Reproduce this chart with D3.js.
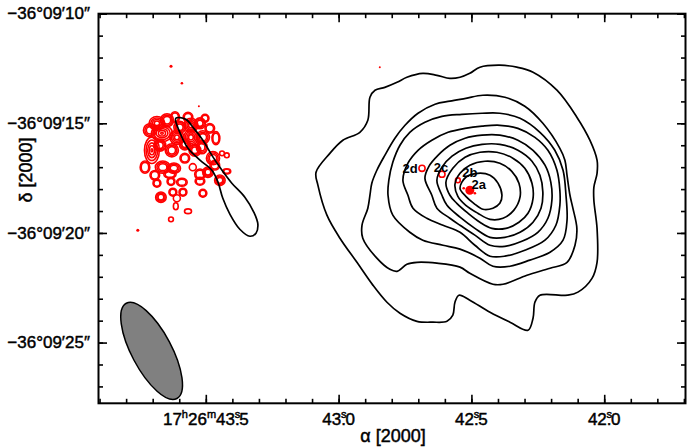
<!DOCTYPE html>
<html>
<head>
<meta charset="utf-8">
<script src="https://cdn.jsdelivr.net/npm/d3@7"></script>
<style>
  body { margin: 0; background: #fff; }
  svg { display: block; font-family: "Liberation Sans", Arial, sans-serif; }
  .lab { stroke: #000; stroke-width: 0.45px; }
</style>
</head>
<body>
<div id="graphicContainer"></div>
<script>
// positions: [RA seconds of 17h26m, Dec arcsec of -36d09m]

// low-resolution (black) contours, outer to inner
var contour1 = [[43.085,17.23],[43.078,17.82],[43.044,19.19],[42.995,20.24],[42.931,21.34],[42.871,22.38],[42.818,23.16],[42.769,23.66],[42.705,24.03],[42.645,24.07],[42.592,24.03],[42.570,23.75],[42.562,23.16],[42.547,22.84],[42.506,23.07],[42.430,23.62],[42.355,24.07],[42.287,24.44],[42.268,23.89],[42.261,23.16],[42.242,22.84],[42.137,22.84],[42.099,22.70],[42.046,22.07],[42.027,21.34],[42.027,19.79],[42.039,18.51],[42.039,17.92],[42.027,17.28],[42.027,16.68],[42.054,15.77],[42.103,14.72],[42.178,13.49],[42.268,12.67],[42.329,12.44],[42.393,12.35],[42.468,12.44],[42.506,12.72],[42.543,12.90],[42.581,12.95],[42.630,12.81],[42.683,12.72],[42.743,12.90],[42.780,13.13],[42.826,13.36],[42.863,13.49],[42.882,13.81],[42.890,14.86],[42.920,15.41],[42.984,15.77],[43.033,16.37]]
var contour2 = [[42.882,18.28],[42.890,18.87],[42.912,19.65],[42.909,20.24],[42.856,21.15],[42.807,21.66],[42.780,21.75],[42.743,21.43],[42.705,21.34],[42.630,21.38],[42.543,21.56],[42.506,21.84],[42.419,22.34],[42.381,22.34],[42.291,21.93],[42.204,21.61],[42.140,21.34],[42.110,20.56],[42.103,19.79],[42.118,18.87],[42.129,18.28],[42.140,17.37],[42.148,16.68],[42.167,16.14],[42.231,15.00],[42.299,14.22],[42.374,13.81],[42.457,13.72],[42.521,13.86],[42.581,13.99],[42.637,14.13],[42.701,14.54],[42.750,15.09],[42.788,15.68],[42.826,16.46],[42.856,17.14],[42.875,17.73]]
var contour3 = [[42.811,17.60],[42.814,18.28],[42.796,19.19],[42.732,19.97],[42.683,20.33],[42.607,20.56],[42.543,20.74],[42.468,21.15],[42.419,21.52],[42.355,21.52],[42.280,21.24],[42.204,20.88],[42.155,20.33],[42.140,19.42],[42.144,18.28],[42.155,17.14],[42.186,16.23],[42.242,15.41],[42.317,14.77],[42.393,14.54],[42.460,14.54],[42.536,14.59],[42.611,14.68],[42.675,14.95],[42.732,15.41],[42.769,16.00],[42.796,16.78]]
var contour4 = [[42.758,17.60],[42.739,18.28],[42.720,18.87],[42.668,19.33],[42.607,19.65],[42.543,19.97],[42.487,20.56],[42.430,21.06],[42.374,21.06],[42.299,20.79],[42.223,20.33],[42.182,19.65],[42.167,18.74],[42.167,18.05],[42.178,17.14],[42.212,16.23],[42.261,15.64],[42.325,15.23],[42.393,15.09],[42.460,15.13],[42.524,15.23],[42.588,15.41],[42.649,15.77],[42.701,16.23],[42.739,16.82]]
var contour5 = [[42.675,17.51],[42.649,18.28],[42.630,18.87],[42.581,19.33],[42.543,19.65],[42.487,20.10],[42.430,20.56],[42.374,20.61],[42.310,20.38],[42.250,19.97],[42.212,19.33],[42.197,18.51],[42.201,17.69],[42.223,16.91],[42.268,16.23],[42.325,15.77],[42.393,15.54],[42.460,15.54],[42.524,15.68],[42.581,16.00],[42.626,16.46],[42.660,16.96]]
var contour6 = [[42.630,17.60],[42.611,18.28],[42.592,18.74],[42.543,19.28],[42.487,19.79],[42.430,20.20],[42.374,20.20],[42.317,19.97],[42.268,19.51],[42.238,18.87],[42.231,18.14],[42.242,17.37],[42.272,16.73],[42.325,16.23],[42.393,15.96],[42.460,15.96],[42.521,16.14],[42.573,16.50],[42.611,17.00]]
var contour7 = [[42.596,17.69],[42.581,18.28],[42.555,18.65],[42.513,19.10],[42.468,19.51],[42.423,19.79],[42.370,19.79],[42.321,19.51],[42.287,19.10],[42.268,18.42],[42.272,17.73],[42.299,17.05],[42.344,16.59],[42.404,16.32],[42.468,16.32],[42.524,16.55],[42.570,17.05]]
var contour8 = [[42.562,17.78],[42.551,18.33],[42.521,18.74],[42.476,19.10],[42.430,19.38],[42.381,19.33],[42.340,18.96],[42.317,18.37],[42.321,17.73],[42.348,17.19],[42.393,16.82],[42.449,16.73],[42.506,16.91],[42.543,17.28]]
var contour9 = [[42.543,17.96],[42.521,17.46],[42.476,17.28],[42.430,17.37],[42.400,17.73],[42.385,18.28],[42.393,18.65],[42.419,18.87],[42.457,18.92],[42.491,18.65],[42.521,18.33]]
// lowest level closed around the west lobe
var lobeContour = [[43.613,14.77],[43.598,15.41],[43.567,16.14],[43.522,16.68],[43.477,17.14],[43.454,17.69],[43.436,18.42],[43.409,19.15],[43.372,19.83],[43.334,20.15],[43.311,20.01],[43.304,19.60],[43.319,19.06],[43.353,18.37],[43.402,17.73],[43.439,17.14],[43.477,16.46],[43.511,15.77],[43.545,15.23],[43.575,14.82]]

// high-resolution (red) emission: [ra, dec, rx", ry", rings] (rings 0 = filled dot)
var redSources = [
  [43.684,15.00,0.36,0.31,4],[43.646,14.86,0.30,0.30,3],[43.616,14.72,0.20,0.25,2],
  [43.556,15.09,0.32,0.32,4],[43.522,15.00,0.25,0.25,3],[43.665,15.45,0.48,0.38,5],
  [43.609,15.64,0.32,0.32,4],[43.556,15.64,0.32,0.36,4],[43.511,15.64,0.30,0.30,3],
  [43.703,16.23,0.34,0.60,5],[43.628,16.23,0.30,0.30,3],[43.579,15.96,0.25,0.25,3],
  [43.515,16.09,0.25,0.30,3],[43.462,15.68,0.18,0.30,2],[43.473,16.59,0.30,0.30,3],
  [43.439,16.37,0.11,0.11,1],[43.421,16.46,0.11,0.11,1],[43.729,17.00,0.22,0.28,2],
  [43.662,17.00,0.34,0.28,3],[43.620,17.05,0.30,0.24,3],[43.635,17.32,0.28,0.18,2],
  [43.549,17.00,0.16,0.16,1],[43.522,17.32,0.24,0.24,2],[43.492,17.23,0.24,0.24,3],
  [43.522,17.64,0.22,0.18,2],[43.447,17.60,0.24,0.24,3],[43.684,17.73,0.18,0.18,2],
  [43.631,17.65,0.18,0.18,2],[43.590,17.69,0.24,0.18,2],[43.624,18.14,0.18,0.18,2],
  [43.586,18.14,0.18,0.18,2],[43.669,18.37,0.24,0.24,3],[43.609,18.42,0.16,0.16,1],
  [43.511,18.19,0.18,0.18,2],[43.613,18.78,0.11,0.16,1],[43.567,19.01,0.16,0.11,1],
  [43.631,19.38,0.11,0.11,1],[43.421,17.19,0.18,0.12,2],
  [43.710,15.32,0.30,0.30,3],[43.673,16.00,0.27,0.27,3],[43.598,15.18,0.27,0.27,3],
  [43.485,15.23,0.22,0.22,2],[43.541,16.23,0.27,0.27,3],[43.579,16.59,0.22,0.22,2],
  [43.692,17.37,0.22,0.22,2],[43.466,16.91,0.22,0.22,2],[43.503,14.77,0.18,0.18,2],
  [43.567,14.72,0.22,0.22,2],
  [43.756,19.88,0.07,0.07,0],[43.631,12.40,0.07,0.07,0],[43.590,13.17,0.06,0.06,0],
  [43.526,14.22,0.04,0.04,0],[42.845,12.44,0.04,0.04,0],
  [42.529,17.96,0.06,0.06,0],[42.487,18.19,0.06,0.06,0]
]

// named components
var sourceNames = ["2a", "2b", "2c", "2d"]
var sourceRA = [42.506, 42.551, 42.611, 42.686]
var sourceDec = [18.05, 17.60, 17.32, 17.05]
var sourceSize = [0.17, 0.11, 0.14, 0.14]
var sourceFilled = [true, false, false, false]
var labelOffset = [[9, -6], [12, -8], [-1, -7], [-12, 0]]

// beam: full axes in arcsec, PA in degrees east of north
var beamRA = 43.704, beamDec = 25.38, beamMajor = 4.92, beamMinor = 1.82, beamPA = 28

var xMajorTicks = [43.5, 43.0, 42.5, 42.0]
var xTickLabels = ["17:26:43.5", "43.0", "42.5", "42.0"]
var yMajorTicks = [10, 15, 20, 25]
var yTickLabels = ["\u221236\u00b009\u203210\u2033", "\u221236\u00b009\u203215\u2033", "\u221236\u00b009\u203220\u2033", "\u221236\u00b009\u203225\u2033"]

var width = 689, height = 448
var plotLeft = 98.5, plotRight = 685.5, plotTop = 13.7, plotBottom = 403.3

var x = d3.scaleLinear().domain([43.904, 41.694]).range([plotLeft, plotRight])
var y = d3.scaleLinear().domain([10, 27.77]).range([plotTop, plotBottom])
var pxPerArcsec = y(1) - y(0)

var svg = d3.select("#graphicContainer")
  .append("svg")
  .attr("width", width)
  .attr("height", height)

svg.append("clipPath").attr("id", "plotClip")
  .append("rect")
  .attr("x", plotLeft).attr("y", plotTop)
  .attr("width", plotRight - plotLeft).attr("height", plotBottom - plotTop)

var plot = svg.append("g").attr("clip-path", "url(#plotClip)")

var line = d3.line()
  .x(function (d) { return x(d[0]) })
  .y(function (d) { return y(d[1]) })
  .curve(d3.curveCatmullRomClosed.alpha(0.5))

// beam ellipse
plot.append("ellipse")
  .attr("cx", x(beamRA))
  .attr("cy", y(beamDec))
  .attr("rx", beamMinor / 2 * pxPerArcsec)
  .attr("ry", beamMajor / 2 * pxPerArcsec)
  .attr("transform", "rotate(" + (-beamPA) + "," + x(beamRA) + "," + y(beamDec) + ")")
  .attr("fill", "#808080")
  .attr("stroke", "#000")
  .attr("stroke-width", 1.5)

// red contours
var red = plot.append("g")
redSources.forEach(function (s) {
  if (s[4] === 0) {
    red.append("ellipse")
      .attr("cx", x(s[0])).attr("cy", y(s[1]))
      .attr("rx", Math.max(1, s[2] * pxPerArcsec)).attr("ry", Math.max(1, s[3] * pxPerArcsec))
      .attr("fill", "#ff0000")
    return
  }
  for (var i = 0; i < s[4]; i++) {
    var f = 1 - i * 0.22
    red.append("ellipse")
      .attr("cx", x(s[0])).attr("cy", y(s[1]))
      .attr("rx", s[2] * pxPerArcsec * f).attr("ry", s[3] * pxPerArcsec * f)
      .attr("fill", "none")
      .attr("stroke", "#ff0000")
      .attr("stroke-width", 1.6)
  }
})

sourceNames.forEach(function (name, i) {
  red.append("ellipse")
    .attr("cx", x(sourceRA[i])).attr("cy", y(sourceDec[i]))
    .attr("rx", sourceSize[i] * pxPerArcsec).attr("ry", sourceSize[i] * pxPerArcsec)
    .attr("fill", sourceFilled[i] ? "#ff0000" : "none")
    .attr("stroke", "#ff0000")
    .attr("stroke-width", 1.6)
})

// black contours
var contours = [contour1, contour2, contour3, contour4, contour5, contour6, contour7, contour8, contour9, lobeContour]
plot.selectAll("path.contour")
  .data(contours)
  .join("path")
  .attr("class", "contour")
  .attr("d", line)
  .attr("fill", "none")
  .attr("stroke", "#000")
  .attr("stroke-width", 1.7)

// component labels
svg.selectAll("text.comp")
  .data(sourceNames)
  .join("text")
  .attr("class", "comp")
  .attr("x", function (d, i) { return x(sourceRA[i]) + labelOffset[i][0] })
  .attr("y", function (d, i) { return y(sourceDec[i]) + labelOffset[i][1] })
  .attr("dy", "0.35em")
  .attr("text-anchor", "middle")
  .style("font-size", "13px")
  .style("font-weight", "bold")
  .text(function (d) { return d })

// axes: ticks inward on all sides
var xMinor = d3.range(417, 440).map(function (d) { return d / 10 })
var yMinor = d3.range(10, 28)

function addAxis(axis, transform) {
  var g = svg.append("g").attr("transform", transform).call(axis)
  g.select(".domain").remove()
  g.selectAll("line").attr("stroke", "#000").attr("stroke-width", 1.6)
  g.selectAll("text").remove()
}

addAxis(d3.axisBottom(x).tickValues(xMinor).tickSize(-4.5), "translate(0," + plotBottom + ")")
addAxis(d3.axisBottom(x).tickValues(xMajorTicks).tickSize(-8.5), "translate(0," + plotBottom + ")")
addAxis(d3.axisTop(x).tickValues(xMinor).tickSize(-4.5), "translate(0," + plotTop + ")")
addAxis(d3.axisTop(x).tickValues(xMajorTicks).tickSize(-8.5), "translate(0," + plotTop + ")")
addAxis(d3.axisLeft(y).tickValues(yMinor).tickSize(-4.5), "translate(" + plotLeft + ",0)")
addAxis(d3.axisLeft(y).tickValues(yMajorTicks).tickSize(-8.5), "translate(" + plotLeft + ",0)")
addAxis(d3.axisRight(y).tickValues(yMinor).tickSize(-4.5), "translate(" + plotRight + ",0)")
addAxis(d3.axisRight(y).tickValues(yMajorTicks).tickSize(-8.5), "translate(" + plotRight + ",0)")

svg.append("rect")
  .attr("x", plotLeft).attr("y", plotTop)
  .attr("width", plotRight - plotLeft).attr("height", plotBottom - plotTop)
  .attr("fill", "none")
  .attr("stroke", "#000")
  .attr("stroke-width", 2)

// y tick labels
svg.selectAll("text.ylab")
  .data(yMajorTicks)
  .join("text")
  .attr("class", "ylab lab")
  .attr("x", 90)
  .attr("y", function (d) { return y(d) })
  .attr("dy", "0.33em")
  .attr("text-anchor", "end")
  .style("font-size", "17px")
  .text(function (d, i) { return yTickLabels[i] })

// x tick labels with sexagesimal superscripts
xMajorTicks.forEach(function (v, i) {
  var parts = xTickLabels[i].split(":")
  var sec = parts[parts.length - 1].split(".")
  var t = svg.append("text")
    .attr("class", "lab")
    .attr("x", x(v))
    .attr("y", 425)
    .attr("text-anchor", "middle")
    .style("font-size", "17px")
  if (parts.length === 3) {
    t.append("tspan").text(parts[0])
    t.append("tspan").attr("dy", -7).style("font-size", "11px").text("h")
    t.append("tspan").attr("dy", 7).text(parts[1])
    t.append("tspan").attr("dy", -7).style("font-size", "11px").text("m")
    t.append("tspan").attr("dy", 7).text(sec[0])
  } else {
    t.append("tspan").text(sec[0])
  }
  t.append("tspan").text(".")
  t.append("tspan").attr("dx", -5).attr("dy", -7).style("font-size", "11px").text("s")
  t.append("tspan").attr("dx", -1).attr("dy", 7).text(sec[1])
})

// axis titles
svg.append("text")
  .attr("class", "lab")
  .attr("x", 393)
  .attr("y", 442)
  .attr("text-anchor", "middle")
  .style("font-size", "18px")
  .text("\u03b1 [2000]")

svg.append("text")
  .attr("class", "lab")
  .attr("transform", "translate(32,170) rotate(-90)")
  .attr("text-anchor", "middle")
  .style("font-size", "18px")
  .text("\u03b4 [2000]")
</script>
</body>
</html>
